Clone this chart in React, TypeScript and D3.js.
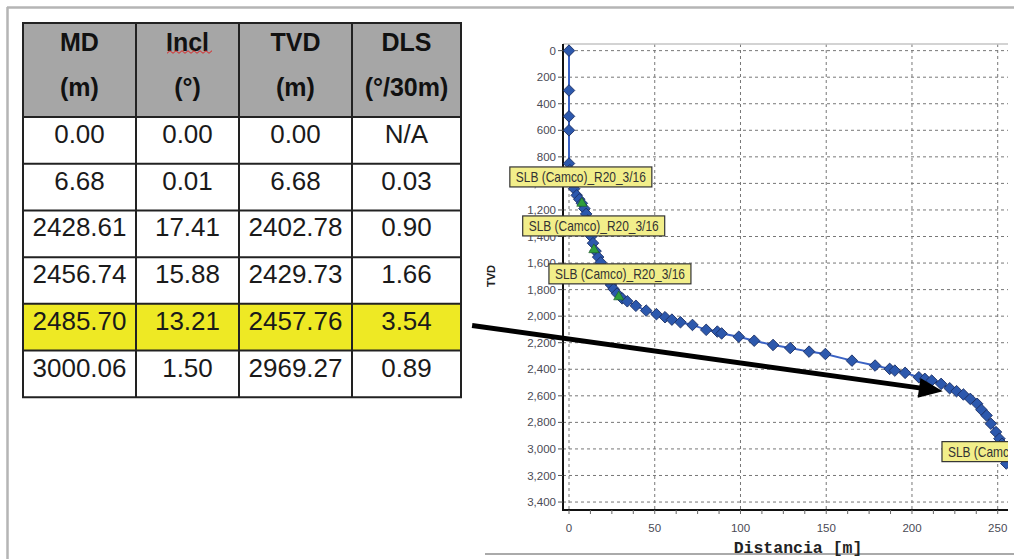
import React from 'react';
import * as d3 from 'd3';

// table contents
const headTop = ['MD', 'Incl', 'TVD', 'DLS'];
const headUnit = ['(m)', '(°)', '(m)', '(°/30m)'];
const mdVals = ['0.00', '6.68', '2428.61', '2456.74', '2485.70', '3000.06'];
const inclVals = ['0.00', '0.01', '17.41', '15.88', '13.21', '1.50'];
const tvdVals = ['0.00', '6.68', '2402.78', '2429.73', '2457.76', '2969.27'];
const dlsVals = ['N/A', '0.03', '0.90', '1.66', '3.54', '0.89'];
const highlightRow = 4;

// survey: [distance (m), TVD (m)]
const surveyPoints: [number, number][] = [
  [0, 0], [0, 300], [0, 495], [0, 600], [0, 850], [0.5, 900], [1.5, 980], [3, 1040],
  [4.5, 1090], [6, 1120], [7.5, 1150], [9, 1190], [10, 1230], [11, 1280], [12, 1340],
  [13, 1400], [14, 1450], [15.5, 1510], [17, 1555], [18.5, 1595], [20, 1650], [21.5, 1695],
  [23, 1735], [24.5, 1765], [26, 1795], [28, 1830], [31, 1866], [34, 1888], [39, 1922],
  [45, 1958], [51, 1985], [56, 2008], [60, 2026], [65, 2046], [72, 2066], [80, 2103],
  [86.5, 2116], [89, 2130], [99, 2155], [108, 2185], [119, 2217], [129, 2240], [140, 2267],
  [149.5, 2285], [165, 2335], [178.5, 2372], [187, 2397], [190, 2410], [196, 2427],
  [204, 2460], [207.5, 2472], [211.5, 2485], [217, 2510], [222, 2543], [226, 2565],
  [230, 2590], [234, 2623], [238, 2660], [240.5, 2705], [243.5, 2748], [246, 2810],
  [249, 2873], [251, 2923], [252.5, 2961], [254, 3020], [255, 3110],
];
const sensorPoints: [number, number][] = [[7.5, 1150], [14.5, 1500], [29, 1855]];

// callouts: [distance, TVD] of the top-left corner
const labelText = 'SLB (Camco)_R20_3/16';
const labelPos: [number, number][] = [[-34.5, 876], [-27, 1245], [-11.7, 1606], [217.5, 2945]];

// arrow annotation in chart units
const arrowFrom: [number, number] = [-56.5, 2070];
const arrowTo: [number, number] = [218, 2565];

const xTicks = [0, 50, 100, 150, 200, 250];
const xMinor = d3.range(0, 256, 12.5);
const yTicks = d3.range(0, 3401, 200);

const W = 1014;
const H = 559;
const plot = { left: 563, right: 1008, top: 44, bottom: 510 };
const narrow = '"Liberation Sans Narrow", "Arial Narrow", "Liberation Sans", Arial, sans-serif';
const sans = '"Liberation Sans", Arial, sans-serif';

const Table = () => {
  const colEdges = [23, 136, 239, 352, 461];
  const headerTop = 23;
  const headerBottom = 117;
  const rowY = d3.scaleLinear().domain([0, 6]).range([headerBottom, 397.3]);
  const cols = [mdVals, inclVals, tvdVals, dlsVals];
  const cx = (i: number) => (colEdges[i] + colEdges[i + 1]) / 2;
  const wave = d3.range(0, 16).map((i) => [167 + i * 3, 52 + (i % 2 ? -1.3 : 1.3)] as [number, number]);
  return (
    <g>
      <rect x={colEdges[0]} y={headerTop} width={colEdges[4] - colEdges[0]} height={headerBottom - headerTop} fill="#a6a6a6" />
      {mdVals.map((_, r) => (
        <rect key={r} x={colEdges[0]} y={rowY(r)} width={colEdges[4] - colEdges[0]} height={rowY(r + 1) - rowY(r)}
          fill={r === highlightRow ? '#eee924' : '#fff'} />
      ))}
      {headTop.map((t, i) => (
        <g key={t} fontFamily={sans} fontWeight="bold" fontSize={25} fill="#111" textAnchor="middle">
          <text x={cx(i)} y={50.5}>{t}</text>
          <text x={cx(i)} y={96}>{headUnit[i]}</text>
        </g>
      ))}
      <path d={d3.line()(wave) || ''} fill="none" stroke="#d22" strokeWidth={1} />
      {cols.map((vals, i) => vals.map((v, r) => (
        <text key={i + '-' + r} x={cx(i)} y={rowY(r) + 26} fontFamily={sans} fontSize={26} fill="#1a1a1a" textAnchor="middle">{v}</text>
      )))}
      {/* grid */}
      {colEdges.map((x) => (
        <line key={'c' + x} x1={x} x2={x} y1={headerTop} y2={rowY(6)} stroke="#222" strokeWidth={2} />
      ))}
      {[headerTop, ...d3.range(0, 7).map(rowY)].map((y) => (
        <line key={'r' + y} x1={colEdges[0] - 1} x2={colEdges[4] + 1} y1={y} y2={y} stroke="#222" strokeWidth={2} />
      ))}
    </g>
  );
};

const Chart = () => {
  const x = d3.scaleLinear().domain([-3.5, 256]).range([plot.left, plot.right]);
  const y = d3.scaleLinear().domain([-50, 3460]).range([plot.top, plot.bottom]);
  const line = d3.line<[number, number]>().x((d) => x(d[0])).y((d) => y(d[1]));
  const diamond = d3.symbol().type(d3.symbolDiamond2).size(85)() || '';
  const tri = d3.symbol().type(d3.symbolTriangle).size(45)() || '';

  const [ax, ay] = [x(arrowFrom[0]), y(arrowFrom[1])];
  const [bx, by] = [x(arrowTo[0]), y(arrowTo[1])];
  const ang = Math.atan2(by - ay, bx - ax);
  const headLen = 24;
  const headW = 10;
  const baseX = bx - headLen * Math.cos(ang);
  const baseY = by - headLen * Math.sin(ang);
  const head = [
    [bx, by],
    [baseX + headW * Math.sin(ang), baseY - headW * Math.cos(ang)],
    [baseX - headW * Math.sin(ang), baseY + headW * Math.cos(ang)],
  ].map((p) => p.join(',')).join(' ');

  return (
    <g>
      <defs>
        <clipPath id="rightClip" clipPathUnits="userSpaceOnUse">
          <rect x={0} y={0} width={plot.right} height={H} />
        </clipPath>
      </defs>
      {/* grid */}
      {yTicks.map((t) => (
        <line key={'gy' + t} x1={plot.left} x2={plot.right} y1={y(t)} y2={y(t)} stroke="#777" strokeDasharray="3,3" />
      ))}
      {xTicks.map((t) => (
        <line key={'gx' + t} x1={x(t)} x2={x(t)} y1={plot.top} y2={plot.bottom} stroke="#777" strokeDasharray="3,3" />
      ))}
      <line x1={plot.left} x2={plot.right} y1={plot.top} y2={plot.top} stroke="#c4c4c4" strokeWidth={1.5} />
      {/* axes */}
      <line x1={plot.left} x2={plot.left} y1={plot.top} y2={plot.bottom} stroke="#111" strokeWidth={2} />
      <line x1={plot.left - 1} x2={plot.right} y1={plot.bottom} y2={plot.bottom} stroke="#111" strokeWidth={2} />
      {yTicks.map((t) => (
        <g key={'ty' + t}>
          <line x1={plot.left - 5} x2={plot.left} y1={y(t)} y2={y(t)} stroke="#555" />
          <text x={plot.left - 7} y={y(t)} dy="0.35em" textAnchor="end" fontFamily={narrow} fontSize={11.5} fill="#4a4a55">
            {d3.format(',')(t)}
          </text>
        </g>
      ))}
      {xMinor.map((t) => (
        <line key={'mx' + t} x1={x(t)} x2={x(t)} y1={plot.bottom} y2={plot.bottom + 4} stroke="#666" />
      ))}
      {xTicks.map((t) => (
        <text key={'tx' + t} x={x(t)} y={532} textAnchor="middle" fontFamily={narrow} fontSize={11.5} fill="#4a4a55">{t}</text>
      ))}
      <text transform="translate(495,276) rotate(-90)" textAnchor="middle" fontFamily={sans} fontWeight="bold" fontSize={11} fill="#222">TVD</text>
      <text x={798} y={553} textAnchor="middle" fontFamily='"Liberation Mono", "DejaVu Sans Mono", monospace' fontWeight="bold" fontSize={16.5} fill="#222">
        Distancia [m]
      </text>

      <g clipPath="url(#rightClip)">
        <path d={line(surveyPoints) || ''} fill="none" stroke="#3a62c4" strokeWidth={2} />
        {surveyPoints.map((p, i) => (
          <path key={'p' + i} d={diamond} transform={`translate(${x(p[0])},${y(p[1])})`} fill="#2c58ad" stroke="#1b2f63" strokeWidth={0.9} />
        ))}
        {sensorPoints.map((p, i) => (
          <path key={'s' + i} d={tri} transform={`translate(${x(p[0])},${y(p[1])})`} fill="#2f9e3c" stroke="#1c5a24" strokeWidth={0.6} />
        ))}
        {labelPos.map((p, i) => (
          <g key={'l' + i} transform={`translate(${x(p[0])},${y(p[1])})`}>
            <rect x={0} y={0} width={142} height={20} fill="#f2ee8a" stroke="#333" strokeWidth={1.2} />
            <text x={6} y={15} fontFamily={narrow} fontSize={15} fill="#333" textLength={130} lengthAdjust="spacingAndGlyphs">{labelText}</text>
          </g>
        ))}
      </g>

      {/* arrow */}
      <line x1={ax} y1={ay} x2={baseX + 2 * Math.cos(ang)} y2={baseY + 2 * Math.sin(ang)} stroke="#000" strokeWidth={5} />
      <polygon points={head} fill="#000" />
    </g>
  );
};

const App = () => (
  <svg width={W} height={H} style={{ position: 'absolute', left: 0, top: 0, background: '#fff' }}>
    <rect x={0} y={0} width={W} height={H} fill="#fff" />
    {/* page frame */}
    <line x1={7} x2={W} y1={7.5} y2={7.5} stroke="#b5b5b5" strokeWidth={2.5} />
    <line x1={7.5} x2={7.5} y1={7} y2={H} stroke="#b5b5b5" strokeWidth={2.5} />
    <line x1={485} x2={W} y1={554} y2={554} stroke="#aaa" strokeWidth={2} />
    <Table />
    <Chart />
  </svg>
);

export default App;
